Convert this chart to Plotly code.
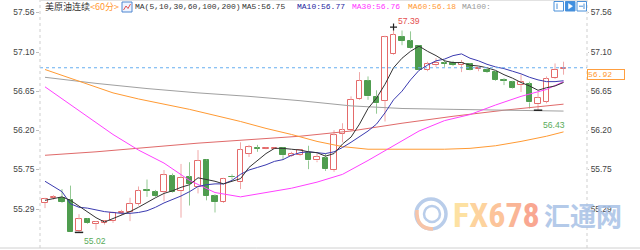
import plotly.graph_objects as go

# ---------------- data ----------------
opens  = [55.36, 55.42, 55.42, 55.39, 55.04, 55.17, 55.12, 55.13, 55.15, 55.24,
          55.25, 55.35, 55.51, 55.49, 55.49, 55.67, 55.50, 55.66, 55.54, 55.85,
          55.44, 55.37, 55.665, 55.60, 55.93, 55.995, 55.985, 55.985, 55.99, 55.90,
          55.91, 55.94, 55.85, 55.88, 55.74, 56.16, 56.20, 56.56, 56.77, 56.58,
          56.54, 57.08, 57.28, 57.23, 57.17, 56.90, 56.95, 56.975, 56.98, 56.95,
          56.96, 56.905, 56.90, 56.87, 56.775, 56.76, 56.72, 56.73, 56.50, 56.53,
          56.80, 56.91]
highs  = [55.42, 55.45, 55.52, 55.56, 55.23, 55.18, 55.15, 55.16, 55.26, 55.28,
          55.42, 55.55, 55.63, 55.51, 55.74, 55.70, 55.81, 55.83, 55.97, 55.86,
          55.46, 55.65, 55.69, 56.06, 56.03, 56.03, 56.00, 56.00, 56.00, 55.95,
          55.98, 56.02, 55.93, 55.93, 56.20, 56.28, 56.59, 56.87, 56.82, 56.66,
          57.29, 57.39, 57.35, 57.34, 57.18, 56.99, 57.03, 57.01, 57.00, 57.01,
          56.97, 56.93, 56.91, 56.88, 56.80, 56.77, 56.84, 56.76, 56.64, 56.82,
          56.97, 56.99]
lows   = [55.30, 55.40, 55.36, 55.03, 55.02, 55.12, 55.05, 55.11, 55.13, 55.22,
          55.15, 55.33, 55.43, 55.43, 55.38, 55.48, 55.19, 55.33, 55.47, 55.39,
          55.25, 55.36, 55.63, 55.52, 55.89, 55.95, 55.98, 55.98, 55.86, 55.89,
          55.90, 55.75, 55.83, 55.73, 55.72, 56.06, 56.19, 56.55, 56.55, 56.39,
          56.30, 57.07, 57.18, 57.14, 56.89, 56.88, 56.93, 56.93, 56.94, 56.87,
          56.89, 56.88, 56.86, 56.77, 56.72, 56.68, 56.64, 56.45, 56.43, 56.51,
          56.79, 56.84]
closes = [55.40, 55.43, 55.37, 55.03, 55.17, 55.13, 55.14, 55.15, 55.24, 55.26,
          55.35, 55.50, 55.50, 55.44, 55.68, 55.49, 55.65, 55.58, 55.845, 55.44,
          55.37, 55.64, 55.655, 55.97, 56.00, 55.985, 55.995, 55.995, 55.91, 55.93,
          55.97, 55.85, 55.89, 55.75, 56.14, 56.20, 56.55, 56.77, 56.59, 56.51,
          57.27, 57.30, 57.23, 57.15, 56.90, 56.96, 56.98, 56.965, 56.95, 56.98,
          56.90, 56.915, 56.87, 56.78, 56.765, 56.69, 56.75, 56.52, 56.57, 56.79,
          56.90, 56.92]
bar_index = list(range(len(closes)))

ma5  = [55.39, 55.41, 55.43, 55.39, 55.32, 55.25, 55.19, 55.14, 55.18, 55.22,
        55.26, 55.31, 55.37, 55.42, 55.47, 55.50, 55.54, 55.57, 55.65, 55.63,
        55.61, 55.58, 55.61, 55.64, 55.77, 55.85, 55.93, 55.99, 55.99, 55.98,
        55.97, 55.95, 55.94, 55.90, 55.93, 56.04, 56.12, 56.27, 56.45, 56.57,
        56.73, 56.92, 57.03, 57.11, 57.17, 57.11, 57.06, 57.00, 56.98, 56.98,
        56.95, 56.94, 56.92, 56.89, 56.84, 56.80, 56.75, 56.71, 56.66, 56.69,
        56.71, 56.75]
ma10 = [55.61, 55.55, 55.49, 55.35, 55.31, 55.30, 55.28, 55.26, 55.25, 55.24,
        55.24, 55.25, 55.27, 55.31, 55.36, 55.40, 55.44, 55.49, 55.55, 55.57,
        55.58, 55.58, 55.62, 55.69, 55.74, 55.77, 55.80, 55.84, 55.86, 55.91,
        55.94, 55.95, 55.94, 55.93, 55.95, 56.00, 56.06, 56.12, 56.19, 56.27,
        56.40, 56.55, 56.65, 56.78, 56.89, 56.95, 57.00, 57.02, 57.06, 57.08,
        57.03, 57.00, 56.96, 56.93, 56.91, 56.88, 56.85, 56.81, 56.78, 56.76,
        56.76, 56.77]
mid_ma_index = [0, 3, 5, 8, 11, 14, 17, 20, 23, 26, 29, 32, 35, 38, 41, 44, 47, 50, 53, 56, 59, 61]
ma30 = [56.70, 56.49, 56.36, 56.15, 55.97, 55.82, 55.62, 55.48, 55.43, 55.48, 55.53,
        55.60, 55.69, 55.85, 56.02, 56.19, 56.31, 56.38, 56.49, 56.59, 56.67, 56.76]
ma60 = [56.90, 56.80, 56.73, 56.63, 56.56, 56.50, 56.44, 56.37, 56.30, 56.22, 56.15,
        56.07, 56.01, 55.98, 55.98, 55.98, 55.98, 55.99, 56.02, 56.07, 56.13, 56.18]
long_ma_index = [0, 6, 12, 18, 24, 30, 36, 42, 48, 54, 61]
ma100 = [56.81, 56.74, 56.68, 56.63, 56.59, 56.54, 56.48, 56.45, 56.44, 56.43, 56.42]
ma200 = [55.91, 55.95, 56.00, 56.05, 56.09, 56.13, 56.19, 56.28, 56.36, 56.43, 56.50]

tick_vals = [57.56, 57.10, 56.65, 56.20, 55.75, 55.29]
tick_text = ["57.56", "57.10", "56.65", "56.20", "55.75", "55.29"]
last_price = 56.92
high_mark = (41, 57.39)
low_marks = [(4, 55.02), (58, 56.43)]

title_name = "美原油连续"
period = "<60分>"
ma_def = "MA(5,10,30,60,100,200)"
ma_labels = [("MA5:56.75", "#333333", 240), ("MA10:56.77", "#1f1fa0", 295),
             ("MA30:56.76", "#ff33ff", 350), ("MA60:56.18", "#ff9933", 406),
             ("MA100:", "#9a9a9a", 460)]

# ---------------- layout helpers ----------------
W, H = 640, 250
ML, MR, MT, MB = 40, 53, 0, 2
PW, PH = W - ML - MR, H - MT - MB
def px(x):  # pixel x -> paper
    return (x - ML) / PW
def py(y):  # pixel y -> paper
    return 1 - (y - MT) / PH

UP_LINE, UP_WICK = "#e46a6a", "#f0a8a8"
DN_FILL, DN_WICK = "#4f9d4f", "#93c993"

fig = go.Figure()

# wicks (split so they don't cross hollow bodies)
def wick_xy(cond):
    xs, ys = [], []
    for i in bar_index:
        if cond(i):
            top, bot = max(opens[i], closes[i]), min(opens[i], closes[i])
            xs += [i, i, None, i, i, None]
            ys += [highs[i], top, None, bot, lows[i], None]
    return xs, ys

ux, uy = wick_xy(lambda i: closes[i] >= opens[i])
dx, dy = wick_xy(lambda i: closes[i] < opens[i])
fig.add_trace(go.Scatter(x=ux, y=uy, mode="lines", line=dict(color=UP_WICK, width=1),
                         hoverinfo="skip", showlegend=False))
fig.add_trace(go.Scatter(x=dx, y=dy, mode="lines", line=dict(color=DN_WICK, width=1),
                         hoverinfo="skip", showlegend=False))

# bodies
base = [min(o, c) for o, c in zip(opens, closes)]
hgt = [max(abs(c - o), 0.006) for o, c in zip(opens, closes)]
up = [c >= o for o, c in zip(opens, closes)]
fig.add_trace(go.Bar(x=bar_index, y=hgt, base=base, width=0.66,
                     marker=dict(color=["white" if u else DN_FILL for u in up],
                                 line=dict(color=[UP_LINE if u else DN_FILL for u in up], width=1)),
                     showlegend=False, hoverinfo="skip"))

# moving averages
for xs, ys, col in [(long_ma_index, ma200, "#e06a6a"), (long_ma_index, ma100, "#a0a0a0"),
                    (mid_ma_index, ma60, "#ff9a33"), (mid_ma_index, ma30, "#ff40ff"),
                    (bar_index, ma10, "#3a3ab0"), (bar_index, ma5, "#333333")]:
    fig.add_trace(go.Scatter(x=xs, y=ys, mode="lines", line=dict(color=col, width=1),
                             hoverinfo="skip", showlegend=False))

# extreme markers
fig.add_trace(go.Scatter(x=[high_mark[0]], y=[high_mark[1]], mode="markers",
                         marker=dict(symbol="cross-thin", size=5, line=dict(color="#222", width=1.2)),
                         showlegend=False, hoverinfo="skip"))
fig.add_trace(go.Scatter(x=[m[0] for m in low_marks], y=[m[1] for m in low_marks], mode="markers",
                         marker=dict(symbol="line-ew", size=6, line=dict(color="#222", width=1.5)),
                         showlegend=False, hoverinfo="skip"))
# dummy for right axis
fig.add_trace(go.Scatter(x=[0], y=[last_price], yaxis="y2", mode="markers",
                         marker=dict(opacity=0), showlegend=False, hoverinfo="skip"))

yr = [54.84, 57.702]
axfont = dict(family="Liberation Sans, Arial, sans-serif", size=8.4, color="#444")
fig.update_layout(
    width=W, height=H, margin=dict(l=ML, r=MR, t=MT, b=MB),
    paper_bgcolor="white", plot_bgcolor="white", barmode="overlay", bargap=0,
    xaxis=dict(range=[-0.588, 63.76], visible=False, fixedrange=True),
    yaxis=dict(range=yr, tickvals=tick_vals, ticktext=tick_text, ticks="outside", ticklen=3,
               tickcolor="#c0c0c0", tickfont=axfont, showgrid=False, zeroline=False, showline=False),
    yaxis2=dict(range=yr, overlaying="y", side="right", tickvals=tick_vals, ticktext=tick_text,
                ticks="outside", ticklen=1, tickcolor="#c0c0c0", tickfont=axfont,
                showgrid=False, zeroline=False, showline=False),
)

shapes = []
# price line
shapes.append(dict(type="line", xref="paper", yref="y", x0=0, x1=1, y0=last_price, y1=last_price,
                   line=dict(color="#66aef0", width=1, dash="dot")))
# frame lines
for xx in (0, 1):
    shapes.append(dict(type="line", xref="paper", yref="paper", x0=xx, x1=xx, y0=0, y1=1,
                       line=dict(color="#cfcfcf", width=1, dash="dot")))
shapes.append(dict(type="line", xref="paper", yref="paper", x0=px(0), x1=px(640), y0=py(248), y1=py(248),
                   line=dict(color="#d0d0d0", width=1)))
shapes.append(dict(type="line", xref="paper", yref="paper", x0=px(40), x1=px(587), y0=py(0.5), y1=py(0.5),
                   line=dict(color="#e2e2e2", width=1)))
# header icon
shapes.append(dict(type="rect", xref="paper", yref="paper", x0=px(122), x1=px(132), y0=py(12), y1=py(2),
                   line=dict(color="#4f86d0", width=1), fillcolor="#eef4ff"))
shapes.append(dict(type="path", xref="paper", yref="paper",
                   path=f"M {px(123.5)},{py(10)} L {px(126)},{py(6)} L {px(128)},{py(8.5)} L {px(130.5)},{py(4)}",
                   line=dict(color="#e05050", width=1)))
# top-right buttons
for x0, fill in [(554, "white"), (565.5, "#3f8fe0"), (577, "white")]:
    shapes.append(dict(type="rect", xref="paper", yref="paper", x0=px(x0), x1=px(x0 + 9.5),
                       y0=py(11), y1=py(1.5), line=dict(color="#4a90d9", width=1), fillcolor=fill))
shapes.append(dict(type="line", xref="paper", yref="paper", x0=px(557), x1=px(557), y0=py(9), y1=py(3.5),
                   line=dict(color="#4a90d9", width=1)))
shapes.append(dict(type="path", xref="paper", yref="paper",
                   path=f"M {px(568.5)},{py(3.5)} L {px(572.5)},{py(6.2)} L {px(568.5)},{py(9)} Z",
                   fillcolor="white", line=dict(color="white", width=0.5)))
shapes.append(dict(type="line", xref="paper", yref="paper", x0=px(579), x1=px(583), y0=py(6.2), y1=py(6.2),
                   line=dict(color="#4a90d9", width=1)))
shapes.append(dict(type="line", xref="paper", yref="paper", x0=px(584), x1=px(584), y0=py(9), y1=py(3.5),
                   line=dict(color="#4a90d9", width=1)))
# watermark logo
shapes.append(dict(type="circle", xref="paper", yref="paper", x0=px(416), x1=px(446), y0=py(229), y1=py(199),
                   line=dict(color="#b9cdea", width=3.5)))
shapes.append(dict(type="path", xref="paper", yref="paper",
                   path=f"M {px(417)},{py(210)} Q {px(416)},{py(229)} {px(433)},{py(229)}",
                   line=dict(color="#f7c4a8", width=3.5)))
shapes.append(dict(type="circle", xref="paper", yref="paper", x0=px(424), x1=px(440), y0=py(222), y1=py(206),
                   line=dict(color="#b9cdea", width=2.5)))
fig.update_layout(shapes=shapes)

ann = []
ty = py(6.8)
ann.append(dict(text=title_name, x=px(42.5), y=ty, font=dict(family="Noto Sans CJK SC", size=9, color="#333")))
ann.append(dict(text=period.replace("<", "&lt;").replace(">", "&gt;"), x=px(87.5), y=ty,
                font=dict(family="Noto Sans CJK SC", size=9, color="#ff9933")))
ann.append(dict(text=ma_def, x=px(132.5), y=ty, font=dict(family="Liberation Mono", size=8, color="#333")))
for t, c, xp in ma_labels:
    ann.append(dict(text=t, x=px(xp), y=ty, font=dict(family="Liberation Mono", size=8, color=c)))
for a in ann:
    a.update(xref="paper", yref="paper", xanchor="left", yanchor="middle", showarrow=False)

# extreme labels
ann.append(dict(text=f"{high_mark[1]:.2f}", x=high_mark[0], y=high_mark[1], xref="x", yref="y",
                xanchor="left", yanchor="bottom", xshift=2, yshift=-1, showarrow=False,
                font=dict(family="Liberation Sans", size=8.6, color="#e5504f")))
for (li, lv), ys in zip(low_marks, (-2, -8)):
    ann.append(dict(text=f"{lv:.2f}", x=li, y=lv, xref="x", yref="y", xanchor="left", yanchor="top",
                    xshift=3, yshift=ys, showarrow=False,
                    font=dict(family="Liberation Sans", size=8.6, color="#5aab5a")))
# last price box
ann.append(dict(text=f"{last_price:.2f}", x=1, y=last_price, xref="paper", yref="y", xanchor="left",
                yanchor="top", xshift=0, yshift=-1, showarrow=False, align="left", width=36, height=9,
                bordercolor="#ff9f40", borderwidth=1, borderpad=0, bgcolor="white",
                font=dict(family="Liberation Mono", size=8, color="#ff9933")))
# watermark text
fx = ("<span style='color:#fde1a2'>F</span><span style='color:#fdd39e'>X</span>"
      "<span style='color:#fcc49a'>6</span><span style='color:#fab596'>7</span>"
      "<span style='color:#f9a791'>8</span>")
ann.append(dict(text=fx, x=px(496.5), y=py(214.5), xref="paper", yref="paper", xanchor="center",
                yanchor="middle", showarrow=False,
                font=dict(family="Liberation Sans Narrow, Roboto Condensed, Roboto", size=34, weight="bold")))
ann.append(dict(text="汇通网", x=px(582.5), y=py(214), xref="paper", yref="paper", xanchor="center",
                yanchor="middle", showarrow=False, opacity=0.85,
                font=dict(family="Noto Sans CJK SC", size=26, color="#a7c1e6", weight="bold")))
fig.update_layout(annotations=ann)

fig.write_html("out.html")
